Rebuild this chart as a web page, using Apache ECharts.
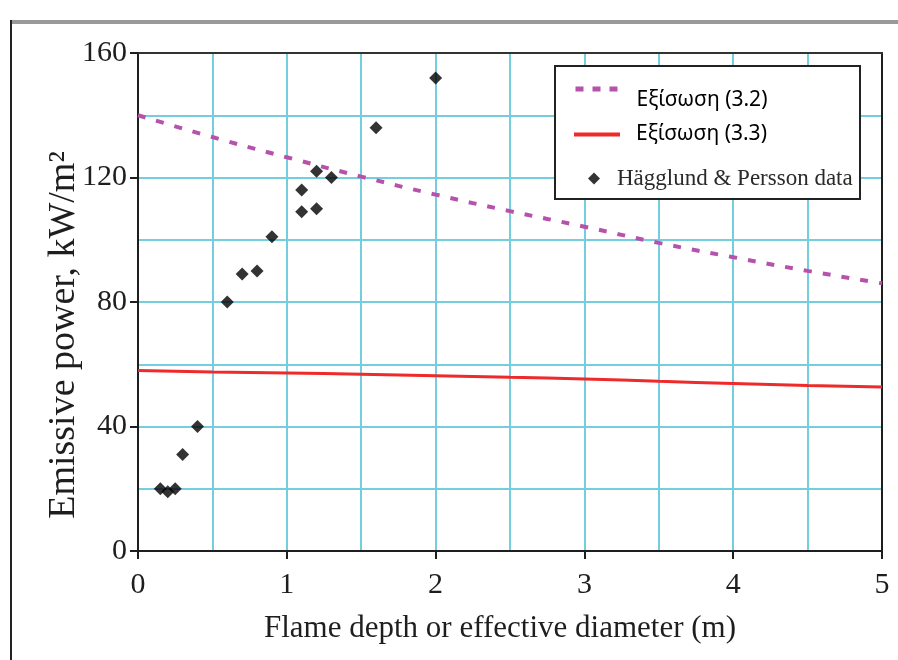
<!DOCTYPE html>
<html>
<head>
<meta charset="utf-8">
<title>Emissive power vs flame depth</title>
<script src="https://cdn.jsdelivr.net/npm/echarts@6/dist/echarts.min.js"></script>
<style>
  html, body { margin: 0; padding: 0; background: #fff; }
  #chart { width: 898px; height: 660px; }
</style>
</head>
<body>
<div id="chart"></div>
<script>
// Flame depth / effective diameter (m) at which the correlations are sampled
const depthGrid = [0, 0.5, 1, 1.5, 2, 2.5, 3, 3.5, 4, 4.5, 5];
// Emissive power (kW/m²) from equation (3.2)
const eq32 = [140, 133, 126.5, 120.3, 114.5, 109.2, 104.2, 99, 94.4, 90, 86];
// Emissive power (kW/m²) from equation (3.3)
const eq33 = [58, 57.5, 57.2, 56.8, 56.3, 55.8, 55.3, 54.5, 53.8, 53.2, 52.7];
// Hägglund & Persson measurements
const hpDepth = [0.15, 0.2, 0.25, 0.3, 0.4, 0.6, 0.7, 0.8, 0.9, 1.1, 1.1, 1.2, 1.2, 1.3, 1.6, 2.0];
const hpPower = [20, 19, 20, 31, 40, 80, 89, 90, 101, 116, 109, 122, 110, 120, 136, 152];

const names = ['Εξίσωση (3.2)', 'Εξίσωση (3.3)', 'Hägglund & Persson data'];

const pairs = (xs, ys) => xs.map((x, i) => [x, ys[i]]);

const serif = '"Liberation Serif", "Times New Roman", serif';
const sans = '"Noto Sans", "Open Sans", sans-serif';
const gridBlue = '#74CEDD';
const ink = '#1e1e1e';
const violet = '#B652AB';
const red = '#EE2A2A';

const chart = echarts.init(document.getElementById('chart'), null, { renderer: 'canvas' });

chart.setOption({
  backgroundColor: '#fff',
  animation: false,
  grid: {
    left: 138, top: 53, width: 744, height: 498,
    outerBoundsMode: 'none'
  },
  xAxis: [
    {
      type: 'value', position: 'bottom', min: 0, max: 5, interval: 1,
      axisLine: { show: true, onZero: false, lineStyle: { color: ink, width: 2 } },
      axisTick: { show: true, inside: false, length: 8, lineStyle: { color: ink, width: 2 } },
      axisLabel: { color: ink, fontFamily: serif, fontSize: 30, margin: 19 },
      splitLine: { show: false },
      name: 'Flame depth or effective diameter (m)',
      nameLocation: 'middle', nameGap: 62, nameMoveOverlap: false,
      nameTextStyle: { color: ink, fontFamily: serif, fontSize: 31, padding: [0, 20, 0, 0] }
    },
    {
      type: 'value', position: 'top', min: 0, max: 5, interval: 0.5,
      axisLine: { show: true, onZero: false, lineStyle: { color: '#333', width: 2 } },
      axisTick: { show: false }, axisLabel: { show: false },
      splitLine: { show: true, showMinLine: false, showMaxLine: false,
                   lineStyle: { color: gridBlue, width: 2 } }
    }
  ],
  yAxis: [
    {
      type: 'value', position: 'left', min: 0, max: 160, interval: 40,
      axisLine: { show: true, onZero: false, lineStyle: { color: ink, width: 2 } },
      axisTick: { show: true, inside: false, length: 8, lineStyle: { color: ink, width: 2 } },
      axisLabel: { color: ink, fontFamily: serif, fontSize: 30, margin: 11 },
      splitLine: { show: false },
      name: 'Emissive power, kW/m²',
      nameLocation: 'middle', nameGap: 55, nameRotate: 90, nameMoveOverlap: false,
      nameTextStyle: { color: ink, fontFamily: serif, fontSize: 38, padding: [0, 66, 0, 0] }
    },
    {
      type: 'value', position: 'right', min: 0, max: 160, interval: 20,
      axisLine: { show: true, onZero: false, lineStyle: { color: ink, width: 2 } },
      axisTick: { show: false }, axisLabel: { show: false },
      splitLine: { show: true, showMinLine: false, showMaxLine: false,
                   lineStyle: { color: gridBlue, width: 2 } }
    }
  ],
  legend: [
    {
      data: [names[0]], left: 568, top: 62, orient: 'vertical',
      itemWidth: 42, itemHeight: 14,
      formatter: '\n{name}',
      itemStyle: { opacity: 0 },
      lineStyle: { width: 5, type: [8, 9] },
      textStyle: { color: '#000', fontFamily: sans, fontSize: 21, lineHeight: 22, padding: [0, 0, 0, 14] }
    },
    {
      data: [names[1]], left: 567, top: 119, orient: 'vertical',
      itemWidth: 46, itemHeight: 14,
      itemStyle: { opacity: 0 },
      lineStyle: { width: 4 },
      textStyle: { color: '#000', fontFamily: sans, fontSize: 21, padding: [0, 0, 0, 11] }
    },
    {
      data: [names[2]], left: 583, top: 162, orient: 'vertical',
      itemWidth: 12, itemHeight: 12,
      textStyle: { color: '#2a2a2a', fontFamily: serif, fontSize: 23, padding: [0, 0, 0, 12] }
    }
  ],
  graphic: [
    // page frame
    { type: 'line', z: 10, shape: { x1: 10, y1: 22, x2: 898, y2: 22 },
      style: { stroke: '#999', lineWidth: 4 } },
    { type: 'line', z: 10, shape: { x1: 11, y1: 20, x2: 11, y2: 660 },
      style: { stroke: '#222', lineWidth: 2 } },
    // legend box
    { type: 'rect', z: 3, shape: { x: 555, y: 66, width: 305, height: 133 },
      style: { fill: '#fff', stroke: '#222', lineWidth: 2 } }
  ],
  series: [
    {
      name: names[0], type: 'line', xAxisIndex: 0, yAxisIndex: 0,
      data: pairs(depthGrid, eq32), smooth: true, symbol: 'none',
      lineStyle: { color: violet, width: 4, type: [8, 11] },
      itemStyle: { color: violet }
    },
    {
      name: names[1], type: 'line', xAxisIndex: 0, yAxisIndex: 0,
      data: pairs(depthGrid, eq33), smooth: true, symbol: 'none',
      lineStyle: { color: red, width: 3 },
      itemStyle: { color: red }
    },
    {
      name: names[2], type: 'scatter', xAxisIndex: 0, yAxisIndex: 0,
      data: pairs(hpDepth, hpPower), symbol: 'diamond', symbolSize: 13,
      itemStyle: { color: '#000' }
    }
  ]
});
</script>
</body>
</html>
